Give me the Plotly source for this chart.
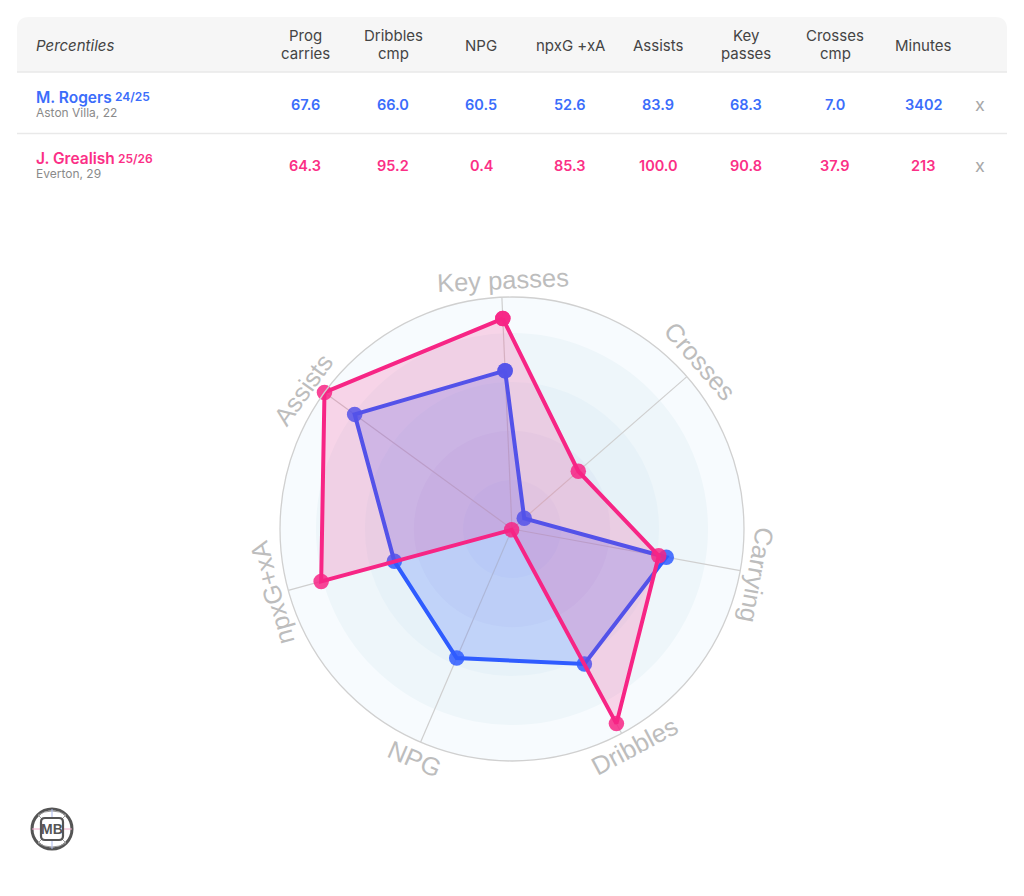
import math
import plotly.graph_objects as go

W, H = 1024, 896
BLUE = "#2f5cff"
PINK = "#f72585"
BLUE_T = "#3b6dfb"
PINK_T = "#fb2f86"
HEAD_C = "#444444"
SUB_C = "#8a8a8a"
LABEL_C = "#bdbdbd"

RADAR_AXES = ["Key passes", "Crosses", "Carrying", "Dribbles", "NPG", "npxG+xA", "Assists"]
ROGERS = [68.3, 7.0, 67.6, 66.0, 60.5, 52.6, 83.9]
GREALISH = [90.8, 37.9, 64.3, 95.2, 0.4, 85.3, 100.0]

RING_R = [100, 84.5, 63.4, 42.3, 21.1]
RING_C = ["#f7fbfe", "#eef6fa", "#e7f2f8", "#e1ecf6", "#dce7f5"]

TABLE_COLS = [["Prog", "carries"], ["Dribbles", "cmp"], ["NPG"], ["npxG +xA"], ["Assists"],
              ["Key", "passes"], ["Crosses", "cmp"], ["Minutes"]]
ROGERS_ROW = ["67.6", "66.0", "60.5", "52.6", "83.9", "68.3", "7.0", "3402"]
GREALISH_ROW = ["64.3", "95.2", "0.4", "85.3", "100.0", "90.8", "37.9", "213"]

COL_X = [305, 393, 481, 570, 658, 746, 835, 923]
CX, CY, R = 512, 529, 232
ROT = 92.5
STEP = 360 / 7
THETA = [i * STEP for i in range(7)]
FLIPPED = {"Dribbles", "NPG"}
LABEL_NUDGE = {"Key passes": (2, 0), "Crosses": (0, -4), "Carrying": (0, 1), "Dribbles": (5, -2),
               "NPG": (1, 1), "npxG+xA": (0, -2), "Assists": (-7, 7)}


def px(x):
    return x / W


def py(y):
    return 1 - y / H


fig = go.Figure()

for r, c in zip(RING_R, RING_C):
    fig.add_trace(go.Barpolar(r=[r], theta=[0], width=[360], marker=dict(color=c, line=dict(width=0)),
                              hoverinfo="skip", showlegend=False))
for t in THETA:
    fig.add_trace(go.Scatterpolar(r=[0, 100], theta=[t, t], mode="lines",
                                  line=dict(color="#cfcfcf", width=1.2), hoverinfo="skip", showlegend=False))


def radar(vals, color, fill, name):
    fig.add_trace(go.Scatterpolar(
        r=vals + vals[:1], theta=THETA + THETA[:1], mode="lines+markers", name=name,
        fill="toself", fillcolor=fill, cliponaxis=False,
        line=dict(color=color, width=4),
        marker=dict(color=color, size=15.5, opacity=0.85, line=dict(width=0)),
        showlegend=False))


radar(ROGERS, BLUE, "rgba(47,92,255,0.20)", "M. Rogers 24/25")
radar(GREALISH, PINK, "rgba(247,37,133,0.18)", "J. Grealish 25/26")

ann = []
shapes = []


def text(x, y, s, size, color, anchor="center", weight=400, style="normal", family="Inter", angle=0):
    ann.append(dict(x=px(x), y=py(y), xref="paper", yref="paper", text=s, showarrow=False,
                    xanchor=anchor, yanchor="middle", textangle=angle, align="center",
                    font=dict(family=family, size=size, color=color, weight=weight, style=style)))


# Table chrome
shapes.append(dict(type="path", xref="paper", yref="paper", line=dict(width=0), fillcolor="#f6f6f6", layer="below",
                   path=f"M {px(17)} {py(72)} L {px(17)} {py(29)} Q {px(17)} {py(17)} {px(29)} {py(17)} "
                        f"L {px(995)} {py(17)} Q {px(1007)} {py(17)} {px(1007)} {py(29)} L {px(1007)} {py(72)} Z"))
for y in (72, 133.5):
    shapes.append(dict(type="line", xref="paper", yref="paper", x0=px(17), x1=px(1007), y0=py(y), y1=py(y),
                       line=dict(color="#e9e9e9", width=1.5)))

LEFT = 34
text(LEFT, 45, "Percentiles", 15, HEAD_C, anchor="left", style="italic")
for x, lines in zip(COL_X, TABLE_COLS):
    if len(lines) == 1:
        text(x, 45, lines[0], 15, HEAD_C)
    else:
        text(x, 36, lines[0], 15, HEAD_C)
        text(x, 54, lines[1], 15, HEAD_C)
for row, color, y in ((ROGERS_ROW, BLUE_T, 104), (GREALISH_ROW, PINK_T, 165)):
    for x, v in zip(COL_X, row):
        text(x, y, v, 14.5, color, weight=600)
    text(980, y, "x", 18, "#a8a8a8")

text(LEFT, 97, "M. Rogers", 15.5, BLUE_T, anchor="left", weight=600)
text(113, 96.5, "24/25", 12, BLUE_T, anchor="left", weight=600)
text(LEFT, 112, "Aston Villa, 22", 12, SUB_C, anchor="left")
text(LEFT, 158, "J. Grealish", 15.5, PINK_T, anchor="left", weight=600)
text(116, 158, "25/26", 12, PINK_T, anchor="left", weight=600)
text(LEFT, 173, "Everton, 29", 12, SUB_C, anchor="left")

# Radar labels: straight text, rotated with its spoke
FS = 25.5
LR = 249
for t, lab in zip(THETA, RADAR_AXES):
    th = t - ROT + 90
    dx, dy = LABEL_NUDGE[lab]
    x = CX + LR * math.sin(math.radians(th)) + dx
    y = CY - LR * math.cos(math.radians(th)) + dy
    text(x, y, lab, FS, LABEL_C, family="Liberation Sans", angle=(th - 180 if lab in FLIPPED else th))

# Logo
LX, LY = 52, 829
LOGO = "#555555"
shapes.append(dict(type="circle", xref="paper", yref="paper", x0=px(LX - 20), x1=px(LX + 20), y0=py(LY + 20), y1=py(LY - 20),
                   line=dict(color=LOGO, width=3), fillcolor="white"))
for sx in (-1, 1):
    for sy in (-1, 1):
        shapes.append(dict(type="line", xref="paper", yref="paper", x0=px(LX + sx * 10), x1=px(LX + sx * 14),
                           y0=py(LY + sy * 10), y1=py(LY + sy * 14), line=dict(color="#9a9a9a", width=1)))
        shapes.append(dict(type="path", xref="paper", yref="paper", line=dict(color="#9a9a9a", width=1),
                           path=f"M {px(LX + sx * 14)} {py(LY + sy * 14)} Q {px(LX + sx * 8)} {py(LY + sy * 18)} "
                                f"{px(LX)} {py(LY + sy * 18)}"))
for a, b in ((-20, -12), (12, 20)):
    shapes.append(dict(type="line", xref="paper", yref="paper", x0=px(LX), x1=px(LX), y0=py(LY + a), y1=py(LY + b),
                       line=dict(color="#a9b8ee", width=1)))
    shapes.append(dict(type="line", xref="paper", yref="paper", x0=px(LX + a), x1=px(LX + b), y0=py(LY), y1=py(LY),
                       line=dict(color="#f0a6c8", width=1)))
r0, q = 11, 4
shapes.append(dict(type="path", xref="paper", yref="paper", line=dict(color=LOGO, width=2.2), fillcolor="white",
                   path=(f"M {px(LX - r0 + q)} {py(LY - r0)} L {px(LX + r0 - q)} {py(LY - r0)} "
                         f"Q {px(LX + r0)} {py(LY - r0)} {px(LX + r0)} {py(LY - r0 + q)} "
                         f"L {px(LX + r0)} {py(LY + r0 - q)} Q {px(LX + r0)} {py(LY + r0)} {px(LX + r0 - q)} {py(LY + r0)} "
                         f"L {px(LX - r0 + q)} {py(LY + r0)} Q {px(LX - r0)} {py(LY + r0)} {px(LX - r0)} {py(LY + r0 - q)} "
                         f"L {px(LX - r0)} {py(LY - r0 + q)} Q {px(LX - r0)} {py(LY - r0)} {px(LX - r0 + q)} {py(LY - r0)} Z")))
text(LX, LY, "MB", 14, LOGO, weight=700, family="Liberation Sans")

fig.update_layout(
    width=W, height=H, autosize=False,
    margin=dict(l=0, r=0, t=0, b=0),
    paper_bgcolor="white", plot_bgcolor="white",
    showlegend=False,
    annotations=ann, shapes=shapes,
    polar=dict(
        domain=dict(x=[px(CX - R), px(CX + R)], y=[py(CY + R), py(CY - R)]),
        bgcolor="rgba(0,0,0,0)",
        barmode="overlay",
        radialaxis=dict(range=[0, 100], visible=False, showgrid=False),
        angularaxis=dict(direction="clockwise", rotation=ROT, showgrid=False, showticklabels=False, ticks="",
                         linecolor="#d0d0d0", linewidth=1.3),
    ),
)
fig.write_html("out.html", config=dict(displayModeBar=False),
               post_script="document.body.style.margin='0';document.body.style.overflow='hidden';")
